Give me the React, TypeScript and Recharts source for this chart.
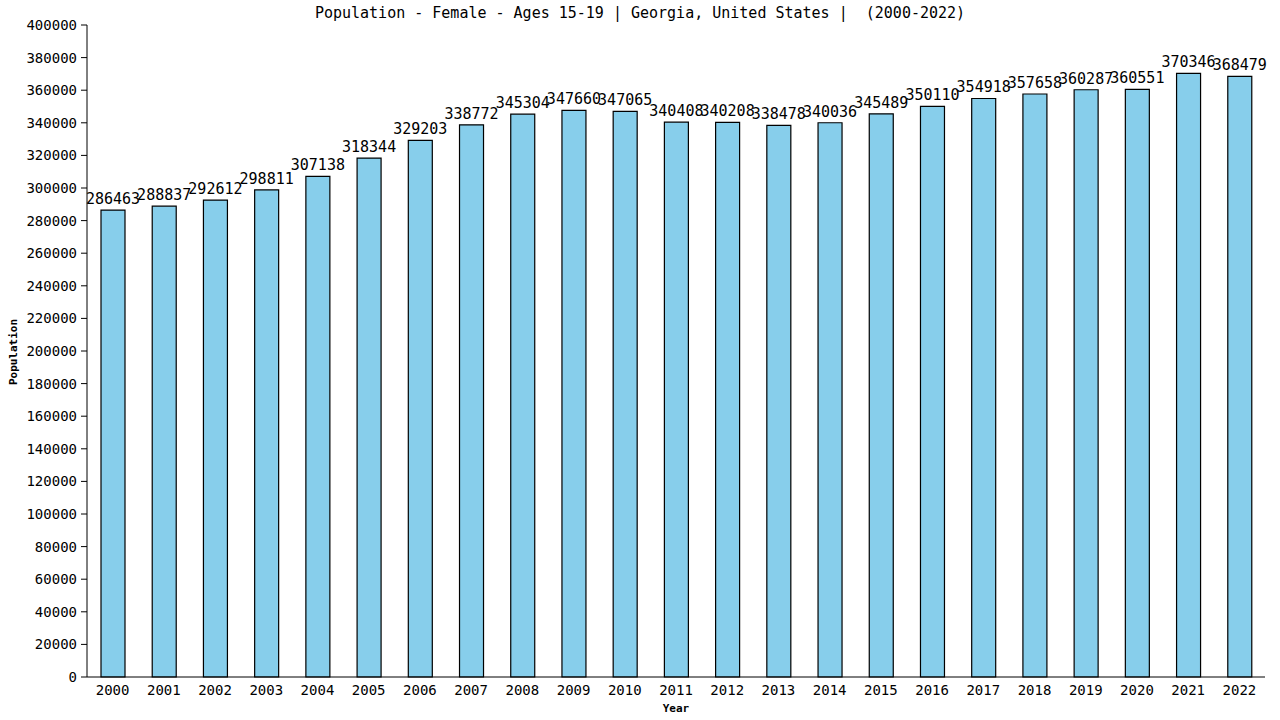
import React from 'react';
import { BarChart, Bar, XAxis, YAxis, LabelList } from 'recharts';

const years = [
  '2000', '2001', '2002', '2003', '2004', '2005', '2006', '2007', '2008', '2009', '2010', '2011',
  '2012', '2013', '2014', '2015', '2016', '2017', '2018', '2019', '2020', '2021', '2022',
];

const population = [
  286463, 288837, 292612, 298811, 307138, 318344, 329203, 338772, 345304, 347660, 347065, 340408,
  340208, 338478, 340036, 345489, 350110, 354918, 357658, 360287, 360551, 370346, 368479,
];

const yTicks = [
  0, 20000, 40000, 60000, 80000, 100000, 120000, 140000, 160000, 180000, 200000, 220000, 240000,
  260000, 280000, 300000, 320000, 340000, 360000, 380000, 400000,
];

const MONO = '"DejaVu Sans Mono", "Liberation Mono", monospace';

const data = years.map((year, i) => ({ year, value: population[i] }));

export default function App() {
  return (
    <div style={{ position: 'absolute', left: 0, top: 0, width: 1280, height: 720, background: '#fff' }}>
      <div
        style={{
          position: 'absolute',
          top: 4,
          left: 0,
          width: 1280,
          textAlign: 'center',
          fontFamily: MONO,
          fontSize: 15,
          whiteSpace: 'pre',
          color: '#000',
        }}
      >
        Population - Female - Ages 15-19 | Georgia, United States |  (2000-2022)
      </div>
      <div
        style={{
          position: 'absolute',
          left: 5,
          top: 352,
          transform: 'translate(-50%, -50%) rotate(-90deg)',
          transformOrigin: 'center',
          marginLeft: 8,
          fontFamily: MONO,
          fontSize: 11,
          fontWeight: 'bold',
          whiteSpace: 'nowrap',
        }}
      >
        Population
      </div>
      <div
        style={{
          position: 'absolute',
          left: 0,
          top: 702,
          width: 1352,
          textAlign: 'center',
          fontFamily: MONO,
          fontSize: 11,
          fontWeight: 'bold',
        }}
      >
        Year
      </div>
      <BarChart
        width={1280}
        height={720}
        data={data}
        margin={{ top: 25, right: 15, left: 7, bottom: 13 }}
        barSize={24}
      >
        <XAxis
          dataKey="year"
          height={30}
          tickLine={false}
          axisLine={{ stroke: '#000' }}
          tick={{ fill: '#000', fontFamily: MONO, fontSize: 14 }}
          interval={0}
        />
        <YAxis
          width={80}
          domain={[0, 400000]}
          ticks={yTicks}
          interval={0}
          tickSize={6}
          tickMargin={4}
          axisLine={{ stroke: '#000' }}
          tickLine={{ stroke: '#000' }}
          tick={{ fill: '#000', fontFamily: MONO, fontSize: 14 }}
        />
        <YAxis
          yAxisId="r"
          orientation="right"
          width={0}
          domain={[0, 400000]}
          tick={false}
          tickLine={false}
          axisLine={{ stroke: '#000' }}
        />
        <Bar dataKey="value" fill="#87CEEB" stroke="#000" strokeWidth={1.2} isAnimationActive={false}>
          <LabelList
            dataKey="value"
            position="top"
            offset={6}
            fill="#000"
            style={{ fontFamily: MONO, fontSize: 15 }}
          />
        </Bar>
      </BarChart>
    </div>
  );
}
